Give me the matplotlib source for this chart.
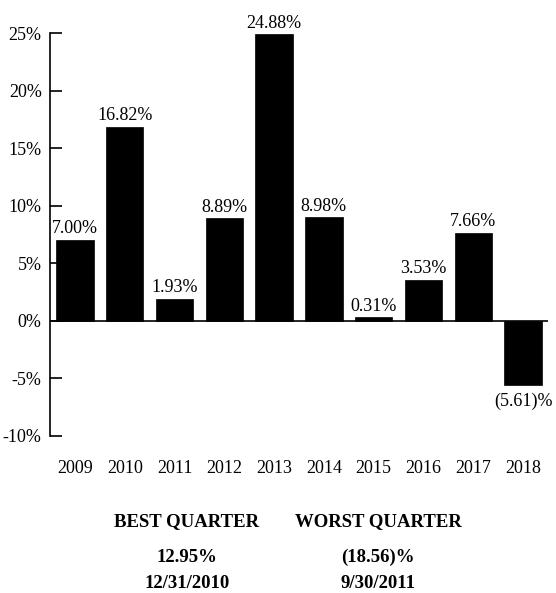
import matplotlib
matplotlib.use("Agg")
import matplotlib.pyplot as plt
import numpy as np

plt.rcParams["font.family"] = ["Liberation Serif", "DejaVu Serif"]

years = ["2009", "2010", "2011", "2012", "2013", "2014", "2015", "2016", "2017", "2018"]
returns = [7.00, 16.82, 1.93, 8.89, 24.88, 8.98, 0.31, 3.53, 7.66, -5.61]
y_ticks = [-10, -5, 0, 5, 10, 15, 20, 25]

best_label = "BEST QUARTER"
best_value = "12.95%"
best_date = "12/31/2010"
worst_label = "WORST QUARTER"
worst_value = "(18.56)%"
worst_date = "9/30/2011"


def fmt_pct(v):
    # negative returns shown in parentheses, as in the fund docs
    if v < 0:
        return f"({abs(v):.2f})%"
    return f"{v:.2f}%"


W, H = 556, 593
fig = plt.figure(figsize=(W / 100, H / 100), dpi=100)
ax = fig.add_axes([50 / W, 1 - 436 / H, (548 - 50) / W, (436 - 33) / H])

x = np.arange(len(years))
ax.bar(x, returns, width=0.75, color="black", edgecolor="black", linewidth=0.5)
ax.axhline(0, color="black", lw=1.2)

for xi, v in zip(x, returns):
    if v >= 0:
        ax.annotate(fmt_pct(v), (xi, v), xytext=(0, 2), textcoords="offset points",
                    ha="center", va="bottom", fontsize=13)
    else:
        ax.annotate(fmt_pct(v), (xi, v), xytext=(0, -5), textcoords="offset points",
                    ha="center", va="top", fontsize=13)

ax.set_xlim(-0.5, len(years) - 0.5)
ax.set_ylim(-10, 25)
ax.set_yticks(y_ticks)
ax.set_yticklabels([f"{t}%" for t in y_ticks], fontsize=13)
ax.tick_params(axis="y", direction="in", length=8.5, width=1.2, pad=6)
ax.set_xticks(x)
ax.set_xticklabels(years, fontsize=13)
ax.tick_params(axis="x", length=0, pad=17)

for side in ["top", "right", "bottom"]:
    ax.spines[side].set_visible(False)
ax.spines["left"].set_linewidth(1.2)

left_x = 187 / W
right_x = 378 / W
rows = [(1 - 522 / H, best_label, worst_label),
        (1 - 557 / H, best_value, worst_value),
        (1 - 584 / H, best_date, worst_date)]
for y, a, b in rows:
    fig.text(left_x, y, a, ha="center", va="center", fontsize=13.5, fontweight="bold")
    fig.text(right_x, y, b, ha="center", va="center", fontsize=13.5, fontweight="bold")

fig.savefig("out.png", dpi=100)
